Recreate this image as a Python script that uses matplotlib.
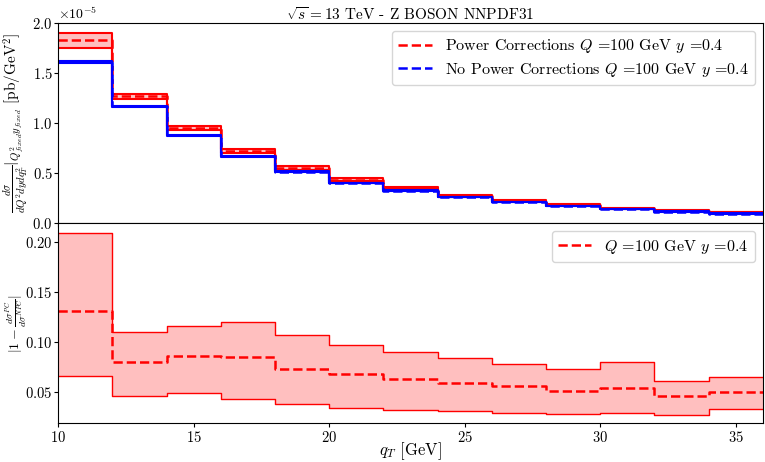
import numpy as np
import matplotlib
matplotlib.use("Agg")
import matplotlib.pyplot as plt

plt.rcParams['font.family'] = 'serif'
plt.rcParams['font.serif'] = ['cmr10', 'DejaVu Serif']
plt.rcParams['mathtext.fontset'] = 'cm'
plt.rcParams['axes.unicode_minus'] = False
plt.rcParams['axes.formatter.use_mathtext'] = True

edges = np.arange(10, 37, 2)

# top panel (units of 1e-5)
pc_central = np.array([1.827, 1.269, 0.953, 0.721, 0.555, 0.435, 0.349, 0.272, 0.223, 0.183, 0.150, 0.126, 0.110]) * 1e-5
pc_up = np.array([1.904, 1.292, 0.970, 0.741, 0.571, 0.448, 0.358, 0.279, 0.229, 0.188, 0.154, 0.130, 0.113]) * 1e-5
pc_dn = np.array([1.751, 1.239, 0.930, 0.698, 0.532, 0.418, 0.338, 0.265, 0.217, 0.178, 0.146, 0.122, 0.107]) * 1e-5
npc_central = np.array([1.615, 1.169, 0.877, 0.668, 0.515, 0.402, 0.326, 0.259, 0.209, 0.169, 0.140, 0.116, 0.096]) * 1e-5
npc_up = np.array([1.625, 1.176, 0.882, 0.672, 0.518, 0.404, 0.328, 0.261, 0.210, 0.170, 0.141, 0.117, 0.097]) * 1e-5
npc_dn = np.array([1.605, 1.162, 0.872, 0.664, 0.512, 0.400, 0.324, 0.257, 0.208, 0.168, 0.139, 0.115, 0.095]) * 1e-5

# bottom panel
r_central = np.array([0.131, 0.0807, 0.0863, 0.0853, 0.0738, 0.0685, 0.0632, 0.0589, 0.0563, 0.0513, 0.0546, 0.0464, 0.0500])
r_up = np.array([0.209, 0.110, 0.1167, 0.1207, 0.1068, 0.0972, 0.090, 0.0844, 0.0787, 0.0735, 0.080, 0.0616, 0.0649])
r_dn = np.array([0.0662, 0.046, 0.049, 0.0434, 0.0381, 0.0348, 0.0325, 0.0312, 0.0298, 0.0285, 0.0292, 0.0279, 0.0332])

def st(v):
    return np.append(v, v[-1])

FS = 11.5
TFS = 10.5

fig = plt.figure(figsize=(7.65, 4.62), dpi=100)
ax1 = fig.add_axes([0.076, 0.517, 0.921, 0.433])
ax2 = fig.add_axes([0.076, 0.084, 0.921, 0.433], sharex=ax1)

# top
ax1.stairs(pc_up, edges, baseline=pc_dn, fill=True, color='red', alpha=0.25, lw=0)
ax1.step(edges, st(pc_up), where='post', color='red', lw=1.5)
ax1.step(edges, st(pc_dn), where='post', color='red', lw=1.5)
ax1.step(edges, st(pc_central), where='post', color='red', lw=1.8, ls='--',
         label=r'Power Corrections $Q$ =100 GeV $y$ =0.4')
ax1.stairs(npc_up, edges, baseline=npc_dn, fill=True, color='blue', alpha=0.25, lw=0)
ax1.step(edges, st(npc_up), where='post', color='blue', lw=1.5)
ax1.step(edges, st(npc_dn), where='post', color='blue', lw=1.5)
ax1.step(edges, st(npc_central), where='post', color='blue', lw=1.8, ls='--',
         label=r'No Power Corrections $Q$ =100 GeV $y$ =0.4')
ax1.set_ylim(0, 2.0e-5)
ax1.set_xlim(10, 36)
ax1.set_yticks(np.array([0, 0.5, 1.0, 1.5, 2.0]) * 1e-5)
ax1.set_ylabel(r'$\frac{d\sigma}{dQ^2dydq_T^2}|_{Q^2_{fixed}y_{fixed}}$ [pb/GeV$^2$]', fontsize=11)
ax1.yaxis.set_label_coords(-0.038, 0.5)
ax1.set_title(r'$\sqrt{s}=13$ TeV - Z BOSON NNPDF31', fontsize=11, pad=1)
ax1.legend(loc='upper right', fontsize=FS, frameon=True, handlelength=2.1, labelspacing=0.35,
           borderaxespad=0.5)
ax1.tick_params(labelbottom=False, labelsize=TFS, length=3, pad=1)
ax1.yaxis.get_offset_text().set_fontsize(10)

# bottom
ax2.stairs(r_up, edges, baseline=r_dn, fill=True, color='red', alpha=0.25, lw=0)
ax2.step(edges, st(r_up), where='post', color='red', lw=1.0)
ax2.step(edges, st(r_dn), where='post', color='red', lw=1.0)
ax2.step(edges, st(r_central), where='post', color='red', lw=1.8, ls='--',
         label=r'$Q$ =100 GeV $y$ =0.4')
ax2.set_ylim(0.0193, 0.2188)
ax2.set_yticks([0.05, 0.10, 0.15, 0.20])
ax2.set_xticks([10, 15, 20, 25, 30, 35])
ax2.set_ylabel(r'$|1-\frac{d\sigma^{PC}}{d\sigma^{NPC}}|$', fontsize=10)
ax2.yaxis.set_label_coords(-0.041, 0.5)
ax2.set_xlabel(r'$q_T$ [GeV]', fontsize=12)
ax2.xaxis.set_label_coords(0.5, -0.085)
ax2.legend(loc='upper right', fontsize=FS, frameon=True, handlelength=2.1, borderaxespad=0.5)
ax2.tick_params(labelsize=TFS, length=3, pad=1)
ax2.tick_params(axis='x', pad=2)

fig.savefig('out.png', dpi=100)
